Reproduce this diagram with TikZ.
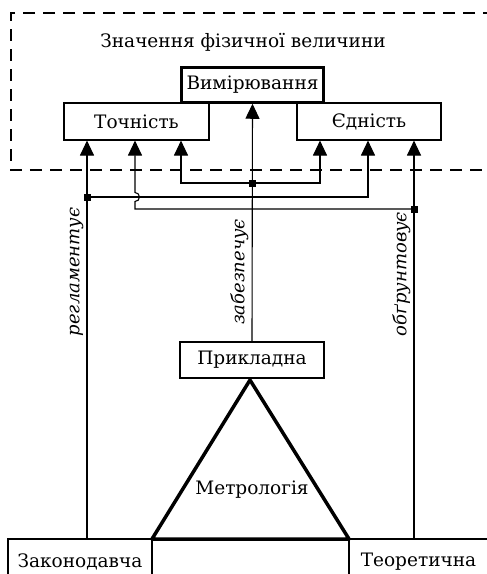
\documentclass[tikz,border=0pt]{standalone}
\usepackage{fontspec}
\setmainfont{DejaVu Serif}
\usetikzlibrary{arrows.meta}
\tikzset{
  txt/.style={font=\fontsize{18.5}{22}\selectfont},
  box/.style={draw, line width=1.1pt, inner sep=0pt, txt},
  thickbox/.style={box, line width=2.5pt},
  arr/.style={line width=1.1pt, -{Triangle[length=15pt,width=14pt]}},
  lbl/.style={rotate=90, anchor=south, inner sep=1.5pt, font=\fontsize{18}{20}\selectfont\itshape},
  junct/.style={fill=black, minimum size=7pt, inner sep=0pt},
  dashbox/.style={line width=1.1pt, dash pattern=on 12pt off 8pt}
}
\begin{document}
\begin{tikzpicture}[x=1pt,y=-1pt]
\useasboundingbox (0,0) rectangle (487,574);
\clip (0,0) rectangle (487,574);
% dashed region
\draw[dashbox] (495,13) -- (11,13) -- (11,170) -- (495,170);
\node[txt] (title) at (243,42) {Значення фізичної величини};
% boxes
\node[box, minimum width=145pt, minimum height=37pt] (toch) at (136.5,121.5) {Точність};
\node[box, minimum width=144pt, minimum height=37pt] (yed) at (369,121.5) {Єдність};
\node[thickbox, minimum width=142pt, minimum height=35pt] (vym) at (252.5,85) {Вимірювання};
\node[box, minimum width=144pt, minimum height=36pt] (prykl) at (252,360) {Прикладна};
\node[box, minimum width=144pt, minimum height=46pt] (zak) at (80,562) {Законодавча};
\node[box, minimum width=139pt, minimum height=46pt] (teor) at (418.5,562) {Теоретична};
% triangle
\coordinate (apex) at (250,380);
\coordinate (bl) at (152,539);
\coordinate (br) at (349,539);
\draw[line width=3.5pt, line join=round] (apex) -- (bl) -- (br) -- cycle;
\node[txt] (metr) at (252,490) {Метрологія};
% junctions
\coordinate (j1) at (87,197);
\coordinate (j2) at (252,183);
\coordinate (j3) at (414,209);
\coordinate (e1) at (181,183);
\coordinate (e2) at (320,183);
\coordinate (e3) at (368,197);
\coordinate (e4) at (135,209);
% connectors
\draw[arr] (prykl.north) -- (vym.south);
\draw[arr] (j2) -- (e1) -- (e1 |- toch.south);
\draw[arr] (j2) -- (e2) -- (e2 |- yed.south);
\draw[arr] (j1 |- zak.north) -- (j1 |- toch.south);
\draw[arr] (j1) -- (e3) -- (e3 |- yed.south);
\draw[arr] (j3 |- teor.north) -- (j3 |- yed.south);
\draw[arr] (j3) -- (e4) -- (135,201.5) arc[start angle=90, end angle=-90, radius=4.5] -- (e4 |- toch.south);
\node[junct] at (j1) {};
\node[junct] at (j2) {};
\node[junct] at (j3) {};
% labels
\node[lbl] (l1) at (85,272) {регламентує};
\node[lbl] (l2) at (250,272) {забезпечує};
\node[lbl] (l3) at (412,274) {обґрунтовує};
\end{tikzpicture}
\end{document}
